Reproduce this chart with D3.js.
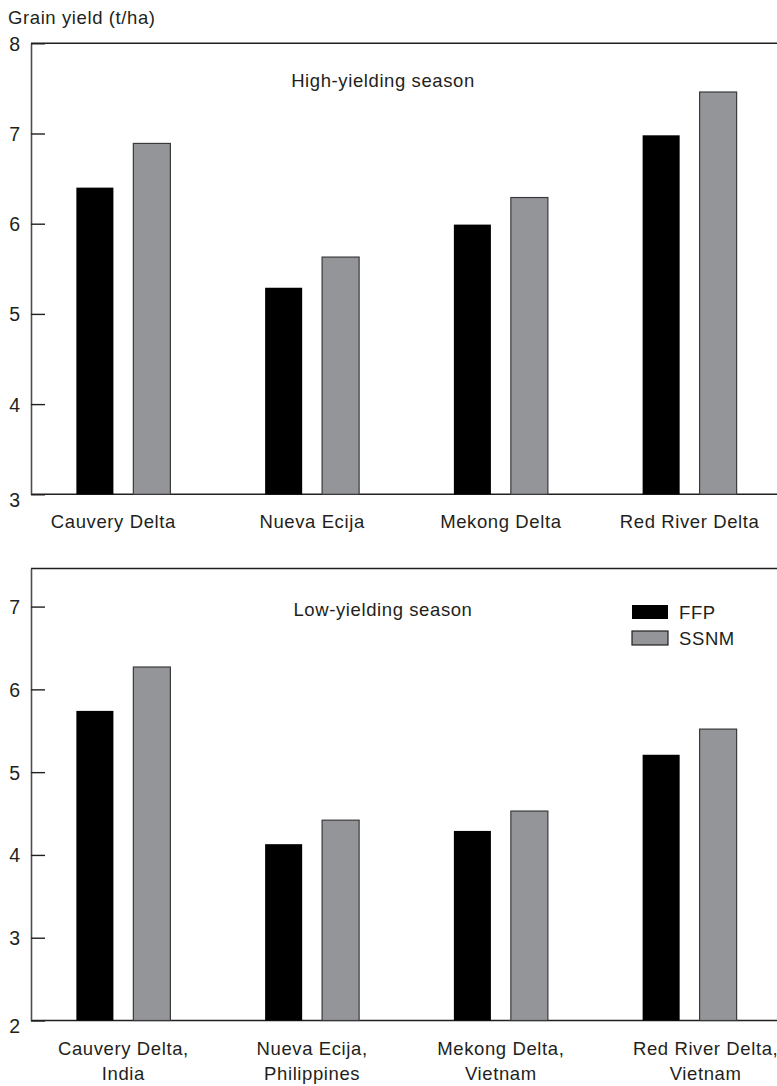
<!DOCTYPE html>
<html>
<head>
<meta charset="utf-8">
<script src="https://cdn.jsdelivr.net/npm/d3@7"></script>
<style>
  body { margin: 0; background: #fff; }
  svg text { font-family: "Liberation Sans", Arial, sans-serif; fill: #231f20; }
</style>
</head>
<body>
<svg id="chart" width="777" height="1086"></svg>
<script>
// Grain yield by region, farmer practice (FFP) vs site-specific nutrient management (SSNM)
const regions = ['Cauvery Delta', 'Nueva Ecija', 'Mekong Delta', 'Red River Delta'];
const regionLabelsLow = [
  ['Cauvery Delta,', 'India'],
  ['Nueva Ecija,', 'Philippines'],
  ['Mekong Delta,', 'Vietnam'],
  ['Red River Delta,', 'Vietnam']
];
const series = ['FFP', 'SSNM'];

const highFFP = [6.40, 5.29, 5.99, 6.98];
const highSSNM = [6.89, 5.63, 6.29, 7.46];
const lowFFP = [5.74, 4.13, 4.29, 5.21];
const lowSSNM = [6.27, 4.42, 4.53, 5.52];

const highTicks = [3, 4, 5, 6, 7, 8];
const lowTicks = [2, 3, 4, 5, 6, 7];

const COLORS = { FFP: '#000000', SSNM: '#939598' };
const FONT = 18.5;
const LS = 0.6;

const svg = d3.select('#chart');

// shared x scales
const x0 = d3.scaleBand().domain(regions).range([29, 784]);
const x1 = d3.scaleBand().domain(series).range([-47, 47]).paddingInner(0.35);

function drawPanel(cfg) {
  const { y, ticks, ffp, ssnm, title, titleY } = cfg;
  const g = svg.append('g');
  const [yBot, yTop] = y.range();

  // frame: top + bottom + left
  g.append('line').attr('x1', 31).attr('x2', 790).attr('y1', yTop).attr('y2', yTop)
    .attr('stroke', '#231f20').attr('stroke-width', 1.4);
  g.append('line').attr('x1', 31).attr('x2', 790).attr('y1', yBot).attr('y2', yBot)
    .attr('stroke', '#231f20').attr('stroke-width', 1.4);

  // y axis with inward ticks
  const axis = d3.axisLeft(y)
    .tickValues(ticks)
    .tickSizeInner(-14)
    .tickSizeOuter(0)
    .tickPadding(11)
    .tickFormat(d3.format('d'));

  const ax = g.append('g').attr('transform', 'translate(31,0)').call(axis);
  ax.select('.domain').attr('stroke', '#4d4d4f').attr('stroke-width', 1.6);
  ax.selectAll('.tick line').attr('stroke', '#231f20').attr('stroke-width', 1.4);
  ax.selectAll('.tick text')
    .style('font-size', '19.5px')
    .attr('fill', '#231f20')
    .attr('dy', d => d === ticks[0] ? '0.62em' : '0.36em');

  // bars
  const rows = regions.map((r, i) => ({ region: r, FFP: ffp[i], SSNM: ssnm[i] }));
  const groups = g.selectAll('.grp').data(rows).enter().append('g')
    .attr('transform', d => `translate(${x0(d.region) + x0.bandwidth() / 2},0)`);

  groups.selectAll('rect')
    .data(d => series.map(s => ({ key: s, value: d[s] })))
    .enter().append('rect')
    .attr('x', d => x1(d.key))
    .attr('width', x1.bandwidth())
    .attr('y', d => y(d.value))
    .attr('height', d => yBot - y(d.value))
    .attr('fill', d => COLORS[d.key])
    .attr('stroke', d => d.key === 'SSNM' ? '#3a3a3c' : 'none')
    .attr('stroke-width', 1.2);

  // panel title
  g.append('text')
    .attr('x', 383).attr('y', titleY)
    .attr('text-anchor', 'middle')
    .style('font-size', FONT + 'px')
    .style('letter-spacing', LS + 'px')
    .text(title);

  return g;
}

// top panel: high-yielding season
const yHigh = d3.scaleLinear().domain([3, 8]).range([494.3, 43.3]);
const highPanel = drawPanel({
  y: yHigh, ticks: highTicks, ffp: highFFP, ssnm: highSSNM,
  title: 'High-yielding season', titleY: 87
});

highPanel.selectAll('.xlab').data(regions).enter().append('text')
  .attr('x', (d, i) => x0(d) + x0.bandwidth() / 2 + (i === 0 ? -10 : 0))
  .attr('y', 528)
  .attr('text-anchor', 'middle')
  .style('font-size', FONT + 'px')
  .style('letter-spacing', LS + 'px')
  .text(d => d);

// y-axis title
svg.append('text')
  .attr('x', 8).attr('y', 24)
  .style('font-size', FONT + 'px')
  .style('letter-spacing', LS + 'px')
  .text('Grain yield (t/ha)');

// bottom panel: low-yielding season
const yLow = d3.scaleLinear().domain([2, 7.46]).range([1020.5, 568.5]);
const lowPanel = drawPanel({
  y: yLow, ticks: lowTicks, ffp: lowFFP, ssnm: lowSSNM,
  title: 'Low-yielding season', titleY: 616
});

const lab = lowPanel.selectAll('.xlab2').data(regions).enter().append('text')
  .attr('text-anchor', 'middle')
  .style('font-size', FONT + 'px')
  .style('letter-spacing', LS + 'px')
  .attr('transform', (d, i) => `translate(${x0(d) + x0.bandwidth() / 2 + (i === 3 ? 16 : 0)},1055)`);
lab.selectAll('tspan')
  .data((d, i) => regionLabelsLow[i])
  .enter().append('tspan')
  .attr('x', 0)
  .attr('dy', (d, j) => j === 0 ? 0 : 25)
  .text(d => d);

// legend
const legend = svg.append('g').attr('transform', 'translate(632,605)');
const li = legend.selectAll('g').data(series).enter().append('g')
  .attr('transform', (d, i) => `translate(0,${i * 26})`);
li.append('rect')
  .attr('width', 36).attr('height', 14)
  .attr('fill', d => COLORS[d])
  .attr('stroke', d => d === 'SSNM' ? '#231f20' : 'none')
  .attr('stroke-width', 1.2);
li.append('text')
  .attr('x', 47).attr('y', 7).attr('dy', '0.36em')
  .style('font-size', FONT + 'px')
  .style('letter-spacing', LS + 'px')
  .text(d => d);
</script>
</body>
</html>
